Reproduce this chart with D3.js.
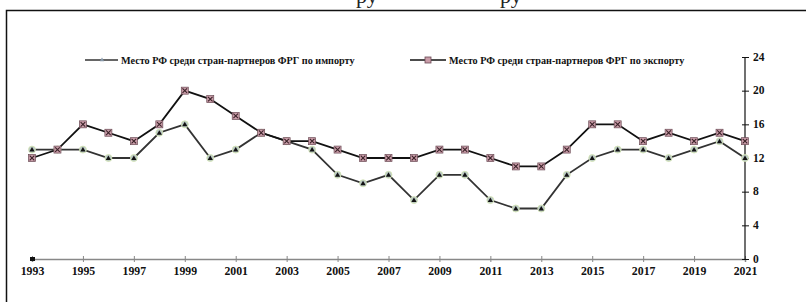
<!DOCTYPE html>
<html><head><meta charset="utf-8">
<script src="https://cdn.jsdelivr.net/npm/d3@7"></script>
<style>body{margin:0;background:#fff}svg{display:block}</style>
</head><body>
<svg id="c" width="806" height="302"></svg>
<script>
const years = d3.range(1993, 2022);
const importRank = [13,13,13,12,12,15,16,12,13,15,14,13,10,9,10,7,10,10,7,6,6,10,12,13,13,12,13,14,12];
const exportRank = [12,13,16,15,14,16,20,19,17,15,14,14,13,12,12,12,13,13,12,11,11,13,16,16,14,15,14,15,14];
const xTickYears = d3.range(1993, 2022, 2);
const yTicks = [0,4,8,12,16,20,24];
const legendLabels = ["Место РФ среди стран-партнеров ФРГ по импорту", "Место РФ среди стран-партнеров ФРГ по экспорту"];

const svg = d3.select("#c");
const font = "'Liberation Serif','Times New Roman',serif";

// clipped text fragment above the frame (as in the reference)
svg.append("text").attr("x", 356).attr("y", 3).attr("font-family", font).attr("font-size", 22).attr("fill", "#222").text("ру");
svg.append("text").attr("x", 500).attr("y", 3).attr("font-family", font).attr("font-size", 22).attr("fill", "#222").text("ру");

// frame
svg.append("path").attr("d", "M6.5,302 V10.5 H806").attr("fill", "none").attr("stroke", "#111").attr("stroke-width", 1.5);

const x = d3.scaleLinear().domain([1993, 2021]).range([32, 745]);
const y = d3.scaleLinear().domain([0, 24]).range([259, 57]);

// x axis
const xa = svg.append("g").attr("transform", "translate(0,259)")
  .call(d3.axisBottom(x).tickValues(xTickYears).tickFormat(d3.format("d")).tickSize(3).tickPadding(5));
xa.select(".domain").attr("stroke", "#888").attr("stroke-width", 1.5);
xa.selectAll(".tick line").attr("stroke", "#888").attr("y1", -3);
xa.selectAll("text").attr("font-family", font).attr("font-weight", "bold").attr("font-size", 11.8).attr("fill", "#111");
svg.append("rect").attr("x", x(1993) - 2).attr("y", 257).attr("width", 5).attr("height", 4).attr("fill", "#111");

// y axis (right)
const ya = svg.append("g").attr("transform", "translate(745,0)")
  .call(d3.axisRight(y).tickValues(yTicks).tickSize(4).tickPadding(4));
ya.select(".domain").attr("stroke", "#111").attr("stroke-width", 1.2).attr("d", `M0,${y(24)}V${y(0)}`);
ya.selectAll(".tick line").attr("stroke", "#111").attr("x1", -3);
ya.selectAll("text").attr("font-family", font).attr("font-weight", "bold").attr("font-size", 11.5).attr("fill", "#111").attr("dy", "0.28em");

const line = d3.line().x((d, i) => x(years[i])).y(d => y(d));

function drawImportMarker(g, cx, cy) {
  g.append("circle").attr("cx", cx).attr("cy", cy).attr("r", 3.5).attr("fill", "#b9c7c4").attr("stroke", "#d4e6b0").attr("stroke-width", 0.8);
  g.append("path").attr("d", d3.symbol(d3.symbolTriangle, 12)()).attr("transform", `translate(${cx},${cy + 0.5})`).attr("fill", "#111");
}
function drawExportMarker(g, cx, cy) {
  g.append("rect").attr("x", cx - 3.5).attr("y", cy - 3.5).attr("width", 7).attr("height", 7).attr("fill", "#c99ca8").attr("stroke", "#6a4a54").attr("stroke-width", 0.7);
  g.append("path").attr("d", `M${cx - 2.3},${cy - 2.3}L${cx + 2.3},${cy + 2.3}M${cx + 2.3},${cy - 2.3}L${cx - 2.3},${cy + 2.3}`).attr("stroke", "#3a2228").attr("stroke-width", 1.1);
}

svg.append("path").datum(importRank).attr("d", line).attr("fill", "none").attr("stroke", "#333").attr("stroke-width", 1.8);
svg.append("path").datum(exportRank).attr("d", line).attr("fill", "none").attr("stroke", "#111").attr("stroke-width", 1.8);

const gi = svg.append("g");
importRank.forEach((v, i) => drawImportMarker(gi, x(years[i]), y(v)));
const ge = svg.append("g");
exportRank.forEach((v, i) => drawExportMarker(ge, x(years[i]), y(v)));

// legend
const lg = svg.append("g");
lg.append("line").attr("x1", 85).attr("x2", 118).attr("y1", 60).attr("y2", 60).attr("stroke", "#333").attr("stroke-width", 1.5);
lg.append("path").attr("d", d3.symbol(d3.symbolTriangle, 8)()).attr("transform", "translate(102,60)").attr("fill", "#8899aa");
lg.append("text").attr("x", 121).attr("y", 63.5).attr("font-family", font).attr("font-weight", "bold").attr("font-size", 10.2).attr("fill", "#111").text(legendLabels[0]);
lg.append("line").attr("x1", 410).attr("x2", 446).attr("y1", 60).attr("y2", 60).attr("stroke", "#111").attr("stroke-width", 1.5);
lg.append("rect").attr("x", 425).attr("y", 57).attr("width", 6).attr("height", 6).attr("fill", "#c99ca8").attr("stroke", "#6a4a54").attr("stroke-width", 0.8);
lg.append("text").attr("x", 449).attr("y", 63.5).attr("font-family", font).attr("font-weight", "bold").attr("font-size", 10.2).attr("fill", "#111").text(legendLabels[1]);
</script>
</body></html>
